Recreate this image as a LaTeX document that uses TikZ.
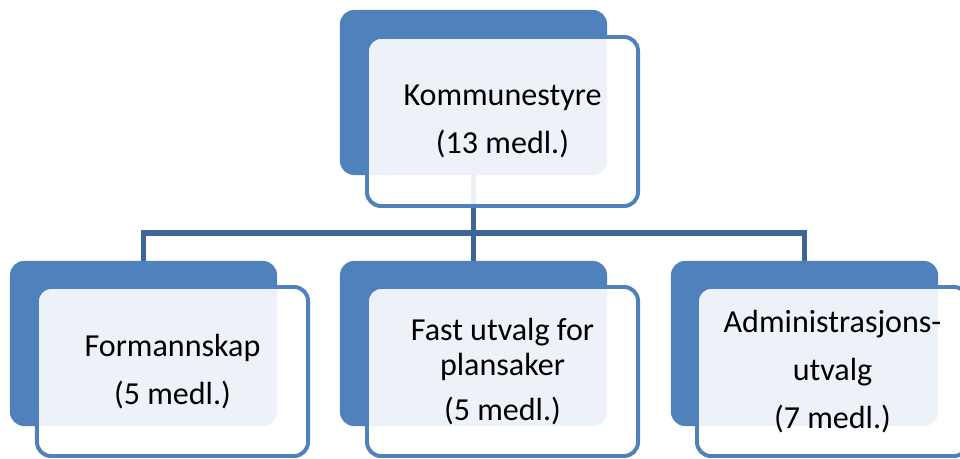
\documentclass[tikz,border=0pt]{standalone}
\usepackage{fontspec}
\setmainfont{Carlito}
\definecolor{boxblue}{RGB}{79,129,189}
\definecolor{lineblue}{RGB}{62,101,151}
\pgfdeclarelayer{background}
\pgfsetlayers{background,main}
\tikzstyle{backbox} = [rectangle, rounded corners=0.35cm, minimum width=6.675cm, minimum height=4.125cm, inner sep=0pt, fill=boxblue]
\tikzstyle{frontbox} = [rectangle, rounded corners=0.35cm, minimum width=6.775cm, minimum height=4.225cm, inner sep=0pt, draw=boxblue, line width=2.8pt, fill=white, fill opacity=0.9, text opacity=1, align=center, font=\fontsize{22.8pt}{34pt}\selectfont]
\tikzstyle{link} = [draw=lineblue, line width=4.2pt]

\begin{document}
\begin{tikzpicture}[x=0.025cm, y=-0.025cm]
    \useasboundingbox (0,0) rectangle (960,459);
    \node [backbox] at (473.5,92.5) (kommune-bg) {};
    \node [frontbox] at (502.5,121.5) (kommune) {Kommunestyre\\(13 medl.)};
    \node [backbox] at (143.5,343.5) (formann-bg) {};
    \node [frontbox] at (172.5,371.5) (formann) {Formannskap\\(5 medl.)};
    \node [backbox] at (473.5,343.5) (plan-bg) {};
    \node [frontbox] at (502.5,371.5) (plan) {Fast utvalg for\\[-9pt]plansaker\\[-2pt](5 medl.)};
    \node [backbox] at (804.5,343.5) (admin-bg) {};
    \node [frontbox] at (832.5,371.5) (admin) {Administrasjons-\\utvalg\\(7 medl.)};
    \begin{pgfonlayer}{background}
    \draw [link] (kommune-bg.south) -- ++(0,58) -| (formann-bg.north);
    \draw [link] (kommune-bg.south) -- ++(0,58) -| (plan-bg.north);
    \draw [link] (kommune-bg.south) -- ++(0,58) -| (admin-bg.north);
    \end{pgfonlayer}
\end{tikzpicture}
\end{document}
